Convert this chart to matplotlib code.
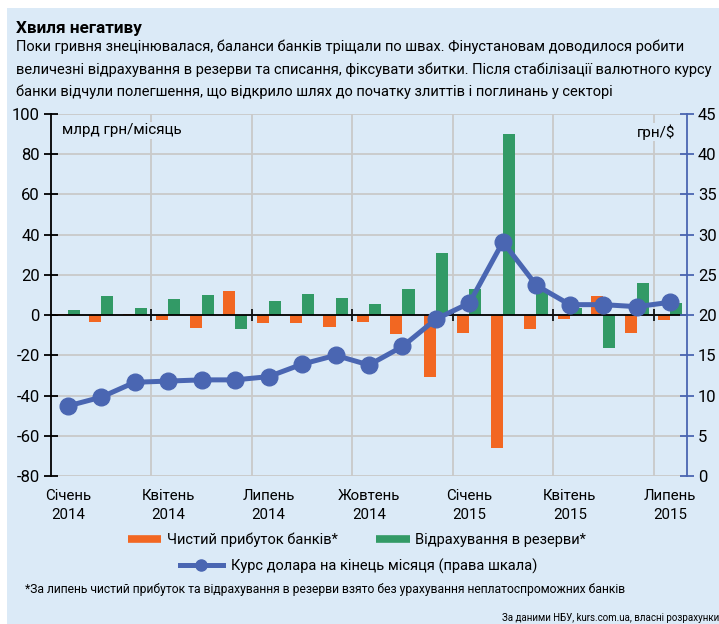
import matplotlib
matplotlib.use("Agg")
from matplotlib import pyplot as plt
from matplotlib.lines import Line2D
from matplotlib.patches import Rectangle
import numpy as np

plt.rcParams['font.family'] = ['Roboto', 'DejaVu Sans']

# дані
months = ['Січ14', 'Лют14', 'Бер14', 'Кві14', 'Тра14', 'Чер14', 'Лип14', 'Сер14', 'Вер14',
          'Жов14', 'Лис14', 'Гру14', 'Січ15', 'Лют15', 'Бер15', 'Кві15', 'Тра15', 'Чер15', 'Лип15']
profit = [0.4, -3.5, 0.4, -2.5, -6.5, 12, -3.8, -3.8, -6, -3.3, -9.3, -31, -8.8, -66, -6.8, -1.8, 9.6, -8.8, -2.3]
provisions = [2.5, 9.5, 3.5, 8, 10, -7, 7, 10.5, 8.5, 5.5, 13, 30.7, 13, 90, 11.5, 3.5, -16.3, 16, 6]
usd_rate = [8.7, 9.8, 11.65, 11.8, 11.95, 11.95, 12.35, 13.9, 15.0, 13.8, 16.1, 19.5, 21.5, 29.1, 23.7, 21.3, 21.3, 21.05, 21.6]
tick_months = ['Січень', 'Квітень', 'Липень', 'Жовтень', 'Січень', 'Квітень', 'Липень']
tick_years = ['2014', '2014', '2014', '2014', '2015', '2015', '2015']
left_ticks = [-80, -60, -40, -20, 0, 20, 40, 60, 80, 100]
right_ticks = [0, 5, 10, 15, 20, 25, 30, 35, 40, 45]

bg = '#dbeaf7'
orange = '#f26722'
green = '#329a66'
blue = '#4a66b2'

fig = plt.figure(figsize=(7.19, 6.24), dpi=100)
fig.patch.set_facecolor('white')
fig.add_artist(Rectangle((7 / 719, 0), 1, 1 - 8 / 624, transform=fig.transFigure,
                         facecolor=bg, edgecolor='none', zorder=-10))

ax = fig.add_axes([51 / 719, 1 - 476 / 624, (687 - 51) / 719, (476 - 114) / 624])
ax.set_facecolor(bg)
x = np.arange(len(months))
w = 0.36
ax.bar(x - w / 2, profit, width=w, color=orange, zorder=2)
ax.bar(x + w / 2, provisions, width=w, color=green, zorder=2)

ax.set_xlim(-0.5, len(months) - 0.5)
ax.set_ylim(-80, 100)
ax.set_yticks(left_ticks)
ax.set_yticklabels([str(t) for t in left_ticks])
ax.set_xticks([2.5, 5.5, 8.5, 11.5, 14.5, 17.5])
ax.set_xticklabels([])
ax.set_axisbelow(True)
ax.grid(True, color='#c9c9c9', lw=1.3)
for s in ['top', 'right']:
    ax.spines[s].set_visible(False)
ax.spines['bottom'].set_position(('data', 0))
ax.spines['bottom'].set_zorder(3)
ax.spines['bottom'].set_linewidth(1.3)
ax.spines['left'].set_linewidth(1.3)
ax.tick_params(axis='x', direction='inout', length=9, width=1.2, color='black')
ax.tick_params(axis='y', direction='inout', length=10, width=1.3, color='black',
               labelsize=12, pad=3)

# підписи місяців
for i, (m, yr) in enumerate(zip(tick_months, tick_years)):
    ax.text(i * 3, -0.055, m, transform=ax.get_xaxis_transform(), ha='center', va='center', fontsize=10.8)
    ax.text(i * 3, -0.108, yr, transform=ax.get_xaxis_transform(), ha='center', va='center', fontsize=10.8)

ax2 = ax.twinx()
ax2.plot(x, usd_rate, color=blue, lw=3.6, marker='o', markersize=12, zorder=5)
ax2.set_ylim(0, 45)
ax2.set_yticks(right_ticks)
ax2.set_yticklabels([str(t) for t in right_ticks])
for s in ['top', 'left', 'bottom']:
    ax2.spines[s].set_visible(False)
ax2.spines['right'].set_color(blue)
ax2.spines['right'].set_linewidth(1.3)
ax2.tick_params(axis='y', direction='inout', length=10, width=1.3, color=blue,
                labelsize=12, pad=3)

ax.text(0.018, 0.955, 'млрд грн/місяць', transform=ax.transAxes, fontsize=11, va='center',
        bbox=dict(facecolor=bg, edgecolor='none', pad=1))
ax2.text(0.982, 0.95, 'грн/$', transform=ax2.transAxes, fontsize=11, va='center', ha='right',
         bbox=dict(facecolor=bg, edgecolor='none', pad=1))

# заголовок
fig.text(16 / 719, 1 - 28 / 624, 'Хвиля негативу', fontsize=12.3, fontweight='bold', va='center')
subtitle = ('Поки гривня знецінювалася, баланси банків тріщали по швах. Фінустановам доводилося робити\n'
            'величезні відрахування в резерви та списання, фіксувати збитки. Після стабілізації валютного курсу\n'
            'банки відчули полегшення, що відкрило шлях до початку злиттів і поглинань у секторі')
fig.text(16 / 719, 1 - 40 / 624, subtitle, fontsize=10.5, va='top', linespacing=1.68)

# легенда
h1 = [Line2D([], [], color=orange, lw=5.5, solid_capstyle='butt'),
      Line2D([], [], color=green, lw=5.5, solid_capstyle='butt')]
leg1 = fig.legend(h1, ['Чистий прибуток банків*', 'Відрахування в резерви*'], ncol=2,
                  loc='center', bbox_to_anchor=(357 / 719, 1 - 540 / 624), frameon=False,
                  fontsize=10.5, handlelength=2.3, columnspacing=2.6, handletextpad=0.4)
h2 = [Line2D([], [], color=blue, lw=3.6, marker='o', markersize=8)]
leg2 = fig.legend(h2, ['Курс долара на кінець місяця (права шкала)'], loc='center',
                  bbox_to_anchor=(359 / 719, 1 - 566 / 624), frameon=False, fontsize=10.5,
                  handlelength=2.9, handletextpad=0.6)

fig.text(25 / 719, 1 - 590 / 624,
         '*За липень чистий прибуток та відрахування в резерви взято без урахування неплатоспроможних банків',
         fontsize=8.7, va='center')
fig.text(1.0, 1 - 618 / 624, 'За даними НБУ, kurs.com.ua, власні розрахунки', fontsize=7.0,
         va='center', ha='right')

fig.savefig('out.png', dpi=100, facecolor=fig.get_facecolor())
